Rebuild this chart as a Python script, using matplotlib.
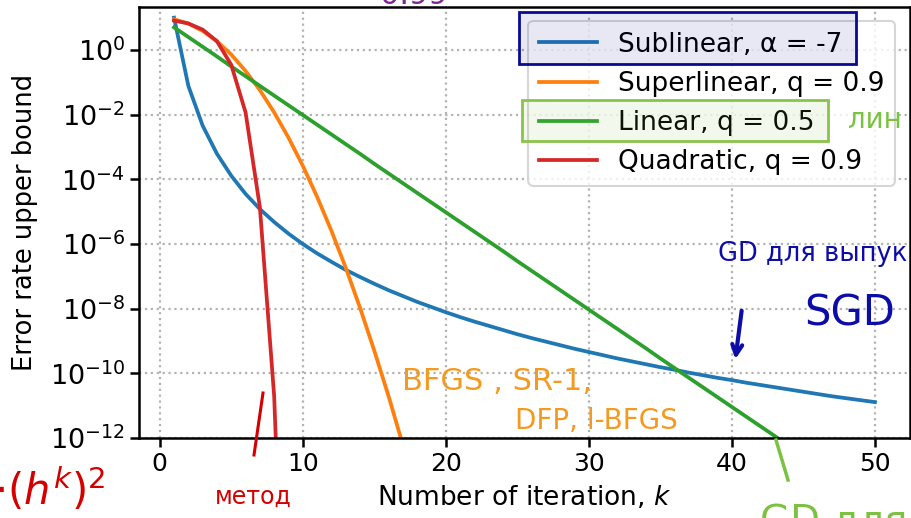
import numpy as np
import matplotlib
matplotlib.use('Agg')
import matplotlib.pyplot as plt
from matplotlib.patches import Rectangle, FancyArrowPatch
from matplotlib.lines import Line2D

# log10 of the error bound
k_sub = list(range(1, 51))
sublinear_log = [1.00, -1.11, -2.34, -3.21, -3.89, -4.45, -4.92, -5.32, -5.68, -6.00,
                 -6.29, -6.55, -6.80, -7.02, -7.23, -7.43, -7.61, -7.79, -7.95, -8.11,
                 -8.26, -8.40, -8.53, -8.66, -8.79, -8.91, -9.02, -9.13, -9.24, -9.34,
                 -9.44, -9.54, -9.63, -9.72, -9.81, -9.89, -9.98, -10.06, -10.14, -10.21,
                 -10.29, -10.36, -10.43, -10.50, -10.57, -10.64, -10.71, -10.77, -10.83, -10.89]

k_super = list(range(1, 19))
superlinear_log = [0.95, 0.82, 0.59, 0.27, -0.14, -0.65, -1.24, -1.93, -2.71, -3.58,
                   -4.54, -5.59, -6.73, -7.97, -9.30, -10.71, -12.22, -13.83]

k_lin = list(range(1, 45))
linear_log = [0.70, 0.40, 0.10, -0.20, -0.51, -0.81, -1.11, -1.41, -1.71, -2.01,
              -2.31, -2.61, -2.91, -3.21, -3.52, -3.82, -4.12, -4.42, -4.72, -5.02,
              -5.32, -5.62, -5.92, -6.22, -6.53, -6.83, -7.13, -7.43, -7.73, -8.03,
              -8.33, -8.63, -8.93, -9.23, -9.54, -9.84, -10.14, -10.44, -10.74, -11.04,
              -11.34, -11.64, -11.94, -12.25]

k_quad = list(range(1, 10))
quadratic_log = [0.91, 0.82, 0.63, 0.27, -0.46, -1.93, -4.86, -10.71, -22.43]

labels = ['Sublinear, α = -7', 'Superlinear, q = 0.9', 'Linear, q = 0.5', 'Quadratic, q = 0.9']
yticks_exp = [0, -2, -4, -6, -8, -10, -12]
xticks = [0, 10, 20, 30, 40, 50]

W, H = 912, 518
fig = plt.figure(figsize=(W / 100, H / 100), dpi=100)
ax = fig.add_axes([139 / W, (H - 438) / H, (910 - 139) / W, (438 - 7) / H])

lw = 2.7
ax.plot(k_sub, 10.0 ** np.array(sublinear_log), color='#1f77b4', lw=lw, label=labels[0])
ax.plot(k_super, 10.0 ** np.array(superlinear_log), color='#ff7f0e', lw=lw, label=labels[1])
ax.plot(k_lin, 10.0 ** np.array(linear_log), color='#2ca02c', lw=lw, label=labels[2])
ax.plot(k_quad, 10.0 ** np.array(quadratic_log), color='#d62728', lw=lw, label=labels[3])

ax.set_yscale('log')
ax.set_xlim(-1.45, 52.45)
ax.set_ylim(1e-12, 10 ** 1.33)
ax.set_yticks([10.0 ** e for e in yticks_exp])
ax.set_yticklabels([r'$10^{%d}$' % e for e in yticks_exp])
ax.yaxis.set_minor_locator(matplotlib.ticker.NullLocator())
ax.set_xticks(xticks)

ax.grid(True, linestyle=':', linewidth=1.6, color='0.7')
for s in ax.spines.values():
    s.set_linewidth(1.8)
ax.tick_params(length=6.5, width=1.8, direction='out')
ax.tick_params(axis='x', labelsize=18)
ax.tick_params(axis='y', labelsize=19.5)

ax.set_xlabel('Number of iteration, $k$', fontsize=19, labelpad=6)
ax.set_ylabel('Error rate upper bound', fontsize=18.5, labelpad=8)

leg = ax.legend(loc='upper right', fontsize=19, framealpha=0.8, borderpad=0.4,
                handlelength=2.2, labelspacing=0.5, borderaxespad=0,
                bbox_to_anchor=((895 - 139) / 771, (438 - 21) / 431))
leg.get_frame().set_linewidth(1.5)


# handwritten notes on the slide
def fx(px):
    return px / W


def fy(py):
    return 1 - py / H


def box(x0, y0, x1, y1, color, alpha):
    fig.add_artist(Rectangle((fx(x0), fy(y1)), fx(x1) - fx(x0), fy(y0) - fy(y1),
                             transform=fig.transFigure, edgecolor=color, fill=False,
                             lw=2, zorder=6))
    fig.add_artist(Rectangle((fx(x0), fy(y1)), fx(x1) - fx(x0), fy(y0) - fy(y1),
                             transform=fig.transFigure, facecolor=color, alpha=alpha,
                             lw=0, zorder=6))


box(519, 12, 856, 64, '#0a0a90', 0.09)
box(522, 100, 828, 141, '#8bc34a', 0.1)

fig.text(fx(380), fy(-4), '0.99', color='#7d2590', fontsize=22, va='center', zorder=7)
fig.text(fx(848), fy(120), 'лин', color='#7cc242', fontsize=20, va='center', zorder=7)
fig.text(fx(718), fy(254), 'GD для выпук', color='#0c0ca8', fontsize=18.5, va='center', zorder=7)
fig.text(fx(804), fy(314), 'SGD', color='#0c0ca8', fontsize=30, va='center', zorder=7)
fig.add_artist(FancyArrowPatch((fx(742), fy(308)), (fx(735), fy(362)),
                               transform=fig.transFigure, color='#0c0ca8',
                               arrowstyle='->', mutation_scale=18, lw=3, zorder=7))
fig.text(fx(402), fy(382), 'BFGS , SR-1,', color='#f39a21', fontsize=22, va='center', zorder=7)
fig.text(fx(515), fy(421), 'DFP, l-BFGS', color='#f39a21', fontsize=20, va='center', zorder=7)
fig.text(fx(215), fy(497), 'метод', color='#d40000', fontsize=17, va='center', zorder=7)
fig.text(fx(-6), fy(490), r'$\cdot(h^k)^2$', color='#d40000', fontsize=30, va='center', zorder=7)
fig.add_artist(Line2D([fx(263), fx(254)], [fy(393), fy(455)], transform=fig.transFigure,
                      color='#d40000', lw=2.2, zorder=7))
fig.add_artist(Line2D([fx(776), fx(788)], [fy(440), fy(480)], transform=fig.transFigure,
                      color='#7cc242', lw=2.5, zorder=7))
fig.text(fx(760), fy(522), 'GD для', color='#7cc242', fontsize=28, va='center', zorder=7)

fig.savefig('out.png', dpi=100)
